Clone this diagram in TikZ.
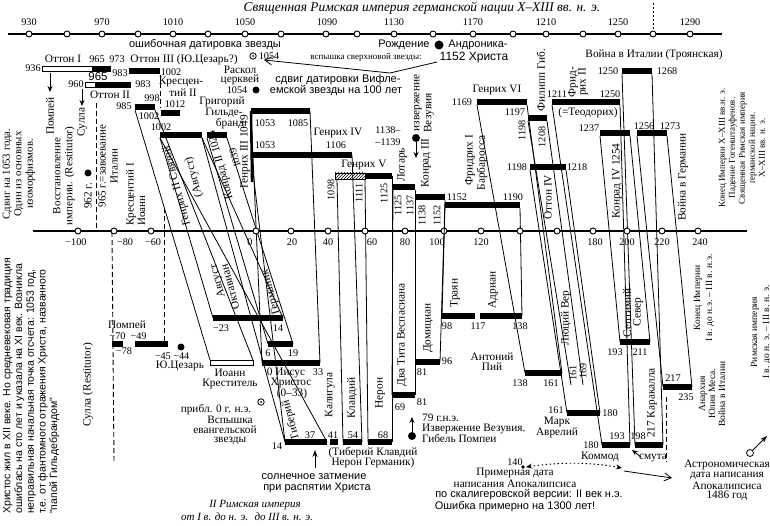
\documentclass[tikz,border=0pt]{standalone}
\usepackage{fontspec}
\setmainfont{Liberation Serif}
\newfontfamily\ssf{Liberation Sans}
\usetikzlibrary{arrows.meta,patterns}
\newcommand\bk[3]{\fill (#1,#3-2.8) rectangle (#2,#3+2.8);}
\newcommand\wbk[3]{\draw[line width=0.8pt,fill=white] (#1,#3-2.5) rectangle (#2,#3+2.5);}
\begin{document}
\begin{tikzpicture}[x=1pt,y=-1pt,
 t/.style={inner sep=0pt,font=\fontsize{11.3}{12}\selectfont},
 n/.style={inner sep=0pt,font=\fontsize{10.2}{11}\selectfont},
 ts/.style={inner sep=0pt,font=\fontsize{9}{10}\selectfont},
 ss/.style={inner sep=0pt,font=\ssf\fontsize{11}{12}\selectfont},
 ln/.style={line width=0.8pt},
 ax/.style={line width=1.6pt},
 tk/.style={circle,draw,fill=white,line width=0.9pt,inner sep=0pt,minimum size=6pt},
 dsh/.style={line width=0.9pt,dash pattern=on 5pt off 3pt},
 bdot/.style={circle,fill,inner sep=0pt,minimum size=#1},
 bdot/.default=7pt,
]
\useasboundingbox (0,0) rectangle (770,526);
\fill[white] (0,0) rectangle (770,526);

% ---------- connectors ----------
\begin{scope}[ln]
\draw (135,110) -- (210,360);
\draw (155,110) -- (253,360);
\draw (160,138) -- (213,318);
\draw (202,138) -- (283,318);
\draw (202,138) -- (285,442);
\draw (160,138) -- (327,442);
\draw (207,138) -- (268,344);
\draw (227,138) -- (293,344);
\draw (251,111) -- (262,363);
\draw (310,111) -- (320,363);
\draw (251,155) -- (285,442);
\draw (352,155) -- (362,442);
\draw (337,179) -- (343,442);
\draw (365,179) -- (368,442);
\draw (392,176) -- (392,442);
\draw (415,190) -- (415,395);
\draw (445,200) -- (440,362);
\draw (520,208) -- (522,316);
\draw (477,105) -- (525,373);
\draw (527,105) -- (562,373);
\draw (528,121) -- (571,385);
\draw (547,121) -- (583,385);
\draw (530,170) -- (567,413);
\draw (566,170) -- (600,413);
\draw (552,105) -- (602,445);
\draw (620,105) -- (630,445);
\draw (600,136) -- (620,342);
\draw (630,136) -- (650,342);
\draw (622,74) -- (635,445);
\draw (652,74) -- (663,445);
\draw (637,136) -- (663,387);
\draw (667,136) -- (692,387);
\end{scope}
\draw[line width=2.4pt] (251,111) -- (252,182);

% dashed
\draw[dsh] (160,75) -- (160,108);
\draw[dsh] (96,103) -- (96,228);
\draw[dsh] (164,208) -- (164,343);
\draw[line width=0.9pt] (112,232) -- (117,232);
\draw[dsh] (112,232) -- (114,463);
\draw[dsh] (666,397) -- (666,462);

% ---------- axes ----------
\draw[ax] (8,34) -- (722,34);
\draw[line width=0.9pt,dash pattern=on 2pt off 2pt] (653,3) -- (653,31);
\foreach \x in {29,67,102,138,173,208,245,281,326,357,394,433,473,513,546,583,618,653,690} \node[tk] at (\x,34) {};
\foreach \x/\l in {29/930,102/970,173/1010,245/1050,327/1090,394/1130,473/1170,546/1210,618/1250,690/1290} \node[n] at (\x,22) {\l};

\draw[ax] (33,231) -- (747,231);
\foreach \x in {78,114,151,256,291,328,365,405,444,481,520,557,593,627,662,698} \node[tk] at (\x,231) {};
\foreach \x/\l in {76/−100,125/−80,153/−60,250/0,292/20,328/40,372/60,405/80,437/100,481/120,595/180,627/200,662/220,700/240} \node[n] at (\x,242) {\l};

% ---------- bars (upper) ----------
\wbk{42}{92}{69} \bk{92}{111}{69}
\wbk{85}{95}{85} \bk{95}{131}{85}
\bk{129}{160}{71}
\bk{135}{155}{107}
\bk{161}{180}{113}
\bk{160}{202}{135}
\bk{207}{227}{135}
\bk{251}{310}{111}
\bk{251}{352}{155}
\draw[line width=0.8pt,pattern=north east lines] (335,173) rectangle (365,179);
\bk{365}{392}{176}
\bk{393}{415}{187}
\bk{415}{445}{197}
\bk{445}{520}{205}
\bk{477}{527}{102}
\bk{528}{547}{118}
\bk{530}{566}{167}
\bk{552}{620}{102}
\bk{600}{630}{133}
\bk{622}{652}{71}
\bk{637}{667}{133}
\draw[ln] (445,205) -- (442,316);
\draw[ln] (393,187) -- (392,395);

% ---------- bars (lower) ----------
\bk{112}{123}{344} \bk{135}{168}{344}
\bk{213}{283}{318}
\bk{268}{293}{344}
\bk{262}{320}{363}
\wbk{210}{253}{363}
\bk{285}{327}{442} \bk{330}{338}{442} \bk{343}{362}{442} \bk{368}{392}{442}
\bk{392}{415}{395}
\bk{415}{440}{362}
\bk{442}{475}{316} \bk{480}{522}{316}
\bk{525}{562}{373}
\bk{567}{600}{413}
\bk{602}{630}{445} \bk{635}{663}{445}
\bk{620}{650}{342}
\bk{663}{692}{387}

% ---------- dots, arrows ----------
\draw[ln,-{Stealth[length=6pt,width=5pt]}] (50,73) -- (50,92);
\draw[ln,-{Stealth[length=6pt,width=5pt]}] (82,89) -- (82,106);
\node[bdot] at (256,90) {};
\node[bdot=9pt] at (439,45) {};
\node[bdot] at (88,173) {};
\node[bdot] at (181,347) {};
\node[bdot=8pt] (v1) at (416,138) {};
\draw[ln,-{Stealth[length=6pt,width=5pt]}] (v1) -- (416,158);
\node[bdot=8pt] (v2) at (412,436) {};
\draw[ln,-{Stealth[length=6pt,width=5pt]}] (v2) -- (412,417);
\draw[line width=1pt,-{Stealth[length=7pt,width=5pt]}] (315,468) -- (315,450);
\draw[ln] (253,56) circle (3.2pt); \fill (253,56) circle (1pt);
\draw[ln] (261,402) circle (3.2pt); \fill (261,402) circle (1pt);
\draw[ln,-{Straight Barb[length=7pt,width=8pt]}] (437,62) -- (390,73) -- (264,60);
\draw[ln,-{Stealth[length=6pt,width=5pt]}] (641,457) -- (632,450);
\fill (523,467) circle (1.8pt);
\draw[line width=0.9pt,dash pattern=on 1.5pt off 2.5pt,{Stealth[length=6pt,width=5pt]}-{Stealth[length=6pt,width=5pt]}] (526,467) .. controls (560,462) and (590,462) .. (622,468);
\draw[ln,-{Straight Barb[length=7pt,width=8pt]}] (624,471) -- (672,478);
\draw[ln] (750,453) circle (3.5pt);
\draw[ln,-{Stealth[length=7pt,width=5pt]}] (752.5,450.5) -- (767,436);

% ---------- upper texts ----------
\node[font=\itshape\fontsize{13.4}{14}\selectfont,inner sep=0] at (422,8) {Священная Римская империя германской нации X–XIII вв. н. э.};
\node[ss] at (205,45) {ошибочная датировка звезды};
\node[ss] at (404,45) {Рождение};
\node[ss] at (478,45) {Андроника-};
\node[ss,font=\ssf\fontsize{12}{13}\selectfont] at (474,58) {1152 Христа};
\node[n] at (33,68) {936};
\node[t] at (63,59) {Оттон I};
\node[n] at (97,59) {965};
\node[n] at (117,59) {973};
\node[t] at (184,60) {Оттон III (Ю.Цезарь?)};
\node[n] at (120,73) {983};
\node[n] at (171,72) {1002};
\node[n] at (76,84) {960};
\node[n] at (143,84) {983};
\node[ss,font=\ssf\fontsize{11.5}{12}\selectfont] at (98,77) {965};
\node[t] at (110,95) {Оттон II};
\node[n] at (152,98) {998};
\node[n] at (124,106) {985};
\node[n] at (149,116) {1002};
\node[t] at (181,82) {Кресцен-};
\node[t] at (183,93) {тий II};
\node[n] at (175,104) {1012};
\node[n] at (161,127) {1002};
\node[n] at (269,56) {1054};
\node[ts] at (366,57) {вспышка сверхновой звезды:};
\node[t] at (240,70) {Раскол};
\node[t] at (240,80) {церквей};
\node[n] at (237,90) {1054};
\node[ss] at (338,80) {сдвиг датировки Вифле-};
\node[ss] at (336,91) {емской звезды на 100 лет};
\node[t] at (222,102) {Григорий};
\node[t] at (224,113) {Гильде-};
\node[t] at (230,124) {бранд};
\node[n] at (265,123) {1053};
\node[n] at (298,123) {1085};
\node[n] at (265,145) {1053};
\node[t] at (338,133) {Генрих IV};
\node[n] at (336,145) {1106};
\node[n] at (388,130) {1138–};
\node[n] at (388,142) {–1139};
\node[t] at (364,165) {Генрих V};
\node[n] at (462,102) {1169};
\node[t] at (497,90) {Генрих VI};
\node[n] at (515,112) {1197};
\node[n] at (557,94) {1211};
\node[t] at (588,113) {(=Теодорих)};
\node[n] at (610,94) {1250};
\node[t] at (654,55) {Война в Италии (Троянская)};
\node[n] at (608,71) {1250};
\node[n] at (667,71) {1268};
\node[n] at (589,128) {1237};
\node[n] at (644,126) {1256};
\node[n] at (670,126) {1273};
\node[n] at (517,167) {1198};
\node[n] at (577,167) {1218};
\node[n] at (457,197) {1152};
\node[n] at (513,197) {1190};

% rotated upper
\node[ts,rotate=90,align=center,font=\fontsize{10.8}{11.5}\selectfont] at (19,174) {Сдвиг на 1053 года.\\Один из основных\\изоморфизмов.};
\node[t,rotate=90] at (50,116) {Помпей};
\node[t,rotate=90,align=center,font=\fontsize{11}{12}\selectfont] at (64,176) {Восстановление\\империи. (Restitutor)};
\node[t,rotate=90] at (82,122) {Сулла};
\node[t,rotate=90] at (88,196) {962 г.};
\node[t,rotate=90,align=center,font=\fontsize{11}{12}\selectfont] at (108,166) {965 г.=завоевание\\Италии};
\node[t,rotate=90,align=left,anchor=north west,font=\fontsize{11}{11.5}\selectfont] at (126,226) {Кресцентий I\\Иоанн};
\node[t,rotate=105] at (177,186) {Генрих II Святой};
\node[t,rotate=105] at (194,177) {(Август)};
\node[t,rotate=105] at (221,165) {Конрад II 1024};
\node[n,rotate=105] at (235,158) {1039};
\node[t,rotate=90] at (245,152) {Генрих III 1049};
\node[n,rotate=90] at (331,190) {1098};
\node[n,rotate=90] at (359,193) {1111};
\node[n,rotate=90] at (384,193) {1125};
\node[t,rotate=90] at (402,165) {Лотарь};
\node[n,rotate=90] at (398,205) {1125};
\node[n,rotate=90] at (410,205) {1137};
\node[t,rotate=90] at (426,163) {Конрад III};
\node[n,rotate=90] at (422,215) {1138};
\node[n,rotate=90] at (437,215) {1152};
\node[t,rotate=90] at (418,103) {извержение};
\node[t,rotate=90] at (429,113) {Везувия};
\node[t,rotate=90] at (470,160) {Фридрих I};
\node[t,rotate=90] at (482,163) {Барбаросса};
\node[t,rotate=90] at (541,80) {Филипп Гиб.};
\node[t,rotate=90] at (573,82) {Фрид-};
\node[t,rotate=90] at (583,82) {рих II};
\node[n,rotate=90] at (522,130) {1198};
\node[n,rotate=90] at (542,137) {1208};
\node[t,rotate=90] at (548,197) {Оттон IV};
\node[t,rotate=90] at (617,181) {Конрад IV 1254};
\node[t,rotate=90] at (683,177) {Война в Германии};
\node[ts,rotate=90,align=center] at (742,148) {Конец Империи X–XIII вв.н. э.\\Падение Гогенштауфенов.\\Священная Римская империя\\германской нации.\\X–XIII вв. н. э.};

% ---------- lower texts ----------
\node[inner sep=0,rotate=90,anchor=north west,align=left,font=\ssf\fontsize{10.5}{11.7}\selectfont] at (3,514) {Христос жил в XII веке. Но средневековая традиция\\ошиблась на сто лет и указала на XI век. Возникла\\неправильная начальная точка отсчета: 1053 год,\\т.е. от фантомного отражения Христа, названного\\"папой Гильдебрандом"};
\node[t,rotate=90] at (88,385) {Сулла (Restitutor)};
\node[t] at (127,325) {Помпей};
\node[n] at (128,336) {−70 \ −49};
\node[n] at (124,351) {−78};
\node[n] at (172,356) {−45 −44};
\node[t] at (180,366) {Ю.Цезарь};
\node[n] at (221,328) {−23};
\node[n] at (278,328) {14};
\node[t,rotate=105] at (218,281) {Август};
\node[t,rotate=105] at (230,287) {Октавиан};
\node[t,rotate=105] at (271,292) {Германик};
\node[n] at (268,353) {6};
\node[n] at (293,353) {19};
\node[t] at (286,373) {0 Иисус};
\node[n] at (318,372) {33};
\node[t] at (291,383) {Христос};
\node[t] at (292,394) {(0–33)};
\node[t] at (230,373) {Иоанн};
\node[t] at (230,384) {Креститель};
\node[t] at (216,410) {прибл. 0 г. н.э.};
\node[t] at (230,420) {Вспышка};
\node[t] at (225,430) {евангельской};
\node[t] at (230,441) {звезды};
\node[t,rotate=105] at (291,420) {Тиберий};
\node[t,rotate=90] at (330,395) {Калигула};
\node[t,rotate=90] at (352,398) {Клавдий};
\node[t,rotate=90] at (380,393) {Нерон};
\node[n] at (277,446) {14};
\node[n] at (310,435) {37};
\node[n] at (333,435) {41};
\node[n] at (353,435) {54};
\node[n] at (383,435) {68};
\node[t] at (373,453) {(Тиберий Клавдий};
\node[t] at (373,463) {Нерон Германик)};
\node[ss] at (314,477) {солнечное затмение};
\node[ss] at (317,488) {при распятии Христа};
\node[font=\itshape\fontsize{11}{12}\selectfont,inner sep=0] at (255,505) {II Римская империя};
\node[font=\itshape\fontsize{11}{12}\selectfont,inner sep=0] at (247,517) {от I в. до н. э. \ до III в. н. э.};
\node[t,rotate=90] at (402,335) {Два Тита Веспасиана};
\node[t,rotate=90] at (428,328) {Домициан};
\node[n] at (447,361) {96};
\node[n] at (422,372) {81};
\node[n] at (400,407) {69};
\node[n] at (422,402) {81};
\node[t,anchor=west] at (422,418) {79 г.н.э.};
\node[t,anchor=west] at (422,429) {Извержение Везувия.};
\node[t,anchor=west] at (422,439) {Гибель Помпеи};
\node[t,rotate=90] at (455,293) {Траян};
\node[t,rotate=90] at (493,290) {Адриан};
\node[n] at (447,326) {98};
\node[n] at (478,326) {117};
\node[n] at (520,326) {138};
\node[t] at (492,357) {Антоний};
\node[t] at (492,367) {Пий};
\node[n] at (520,383) {138};
\node[n] at (551,383) {161};
\node[t,rotate=90] at (566,318) {Люций Вер};
\node[n,rotate=90] at (573,373) {161};
\node[n,rotate=90] at (583,371) {169};
\node[n] at (556,410) {161};
\node[n] at (610,413) {180};
\node[t] at (557,422) {Марк};
\node[t] at (557,433) {Аврелий};
\node[t,rotate=90] at (627,313) {Септимий};
\node[t,rotate=90] at (638,312) {Север};
\node[n] at (615,352) {193};
\node[n] at (640,352) {211};
\node[n] at (673,378) {217};
\node[n] at (686,397) {235};
\node[t,rotate=90] at (652,403) {217 Каракалла};
\node[n] at (591,445) {180};
\node[n] at (617,436) {193};
\node[n] at (638,436) {198};
\node[t] at (600,457) {Коммод};
\node[t] at (653,458) {смута};
\node[n] at (515,462) {140};
\node[t] at (515,473) {Примерная дата};
\node[t] at (515,484) {написания Апокалипсиса};
\node[ss] at (529,495) {по скалигеровской версии: II век н.э.};
\node[ss] at (515,507) {Ошибка примерно на 1300 лет!};
\node[t] at (727,465) {Астрономическая};
\node[t] at (727,476) {дата написания};
\node[t] at (727,486) {Апокалипсиса};
\node[t] at (727,496) {1486 год};
\node[ts,rotate=90,align=center,font=\fontsize{9.5}{12}\selectfont] at (704,298) {Конец Империи\\I в. до н.э. – III в. н.э.};
\node[ts,rotate=90,align=center,font=\fontsize{9.5}{10}\selectfont] at (712,394) {Анархия\\Юлия Меса.\\Война в Италии};
\node[ts,rotate=90,align=center,font=\fontsize{9.5}{12}\selectfont] at (761,332) {Римская империя\\I в. до н. э. – III в. н. э.};
\end{tikzpicture}
\end{document}
